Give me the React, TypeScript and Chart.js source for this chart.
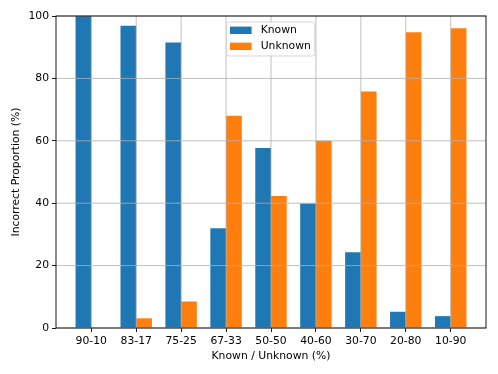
import React, { useEffect, useRef } from "react";
import { Chart, registerables } from "chart.js";

Chart.register(...registerables);

const categories = ["90-10", "83-17", "75-25", "67-33", "50-50", "40-60", "30-70", "20-80", "10-90"];
const knownValues = [100, 96.9, 91.5, 32.0, 57.7, 39.9, 24.3, 5.2, 3.8];
const unknownValues = [0, 3.1, 8.5, 68.0, 42.3, 60.0, 75.8, 94.8, 96.1];
const yTicks = [0, 20, 40, 60, 80, 100];
const seriesNames = ["Known", "Unknown"];
const seriesColors = ["#1f77b4", "#ff7f0e"];

const FONT = "'DejaVu Sans', sans-serif";
const FS = 10.8;

const overlayPlugin = {
  id: "mplOverlay",
  afterDatasetsDraw(chart: any) {
    const { ctx, chartArea } = chart;
    const { left, right, top, bottom } = chartArea;
    const xs = chart.scales.x;
    const ys = chart.scales.y;
    ctx.save();
    // grid on top of bars
    ctx.strokeStyle = "#b0b0b0";
    ctx.lineWidth = 0.8;
    categories.forEach((_, i) => {
      const px = xs.getPixelForValue(i);
      ctx.beginPath();
      ctx.moveTo(px, top);
      ctx.lineTo(px, bottom);
      ctx.stroke();
    });
    yTicks.forEach((v) => {
      const py = ys.getPixelForValue(v);
      ctx.beginPath();
      ctx.moveTo(left, py);
      ctx.lineTo(right, py);
      ctx.stroke();
    });
    // frame
    ctx.strokeStyle = "#000";
    ctx.lineWidth = 0.9;
    ctx.strokeRect(left, top, right - left, bottom - top);
    // legend
    const lx = 226.7, ly = 22, lw = 88, lh = 34, r = 2.5;
    ctx.beginPath();
    ctx.moveTo(lx + r, ly);
    ctx.lineTo(lx + lw - r, ly);
    ctx.quadraticCurveTo(lx + lw, ly, lx + lw, ly + r);
    ctx.lineTo(lx + lw, ly + lh - r);
    ctx.quadraticCurveTo(lx + lw, ly + lh, lx + lw - r, ly + lh);
    ctx.lineTo(lx + r, ly + lh);
    ctx.quadraticCurveTo(lx, ly + lh, lx, ly + lh - r);
    ctx.lineTo(lx, ly + r);
    ctx.quadraticCurveTo(lx, ly, lx + r, ly);
    ctx.closePath();
    ctx.fillStyle = "rgba(255,255,255,0.8)";
    ctx.fill();
    ctx.strokeStyle = "#cccccc";
    ctx.lineWidth = 0.8;
    ctx.stroke();
    ctx.font = `${FS}px ${FONT}`;
    ctx.textBaseline = "middle";
    ctx.textAlign = "left";
    seriesNames.forEach((name, i) => {
      const cy = 30.3 + i * 16;
      ctx.fillStyle = seriesColors[i];
      ctx.fillRect(230, cy - 3.7, 21.6, 7.4);
      ctx.fillStyle = "#000";
      ctx.fillText(name, 260.7, cy);
    });
    ctx.restore();
  },
};

export default function App() {
  const canvasRef = useRef<HTMLCanvasElement | null>(null);

  useEffect(() => {
    document.body.style.margin = "0";
    const canvas = canvasRef.current;
    if (!canvas) return;
    const datasets = [knownValues, unknownValues].map((vals, d) => ({
      label: seriesNames[d],
      data: vals.map((v, i) => ({ x: i, y: v })),
      backgroundColor: seriesColors[d],
      borderWidth: 0,
      categoryPercentage: 0.7,
      barPercentage: 1.0,
    }));
    const chart = new Chart(canvas, {
      type: "bar",
      data: { datasets },
      plugins: [overlayPlugin],
      options: {
        responsive: false,
        animation: false,
        devicePixelRatio: 1,
        layout: { padding: { left: 0, top: 16, right: 12, bottom: 0 } },
        plugins: { legend: { display: false }, tooltip: { enabled: false } },
        scales: {
          x: {
            type: "linear",
            min: -0.785,
            max: 8.785,
            offset: false,
            grid: {
              offset: false,
              drawOnChartArea: false,
              drawTicks: true,
              tickLength: 4,
              tickColor: "#000",
              tickWidth: 0.9,
            },
            border: { display: false },
            afterBuildTicks: (scale: any) => {
              scale.ticks = categories.map((_, i) => ({ value: i }));
            },
            afterFit: (scale: any) => {
              scale.height = 46;
            },
            ticks: {
              autoSkip: false,
              maxRotation: 0,
              padding: 3,
              color: "#000",
              font: { family: FONT, size: FS },
              callback: (v: any) => categories[v] ?? "",
            },
            title: {
              display: true,
              text: "Known / Unknown (%)",
              color: "#000",
              font: { family: FONT, size: FS },
              padding: { top: 0, bottom: 11.8 },
            },
          },
          y: {
            min: 0,
            max: 100,
            grid: {
              drawOnChartArea: false,
              drawTicks: true,
              tickLength: 4,
              tickColor: "#000",
              tickWidth: 0.9,
            },
            border: { display: false },
            afterBuildTicks: (scale: any) => {
              scale.ticks = yTicks.map((v) => ({ value: v }));
            },
            afterFit: (scale: any) => {
              scale.width = 56;
            },
            ticks: {
              padding: 3,
              color: "#000",
              font: { family: FONT, size: FS },
            },
            title: {
              display: true,
              text: "Incorrect Proportion (%)",
              color: "#000",
              font: { family: FONT, size: FS },
              padding: { top: 9.5, bottom: 0 },
            },
          },
        },
      },
    });
    return () => chart.destroy();
  }, []);

  return <canvas ref={canvasRef} width={498} height={374} style={{ display: "block" }} />;
}
